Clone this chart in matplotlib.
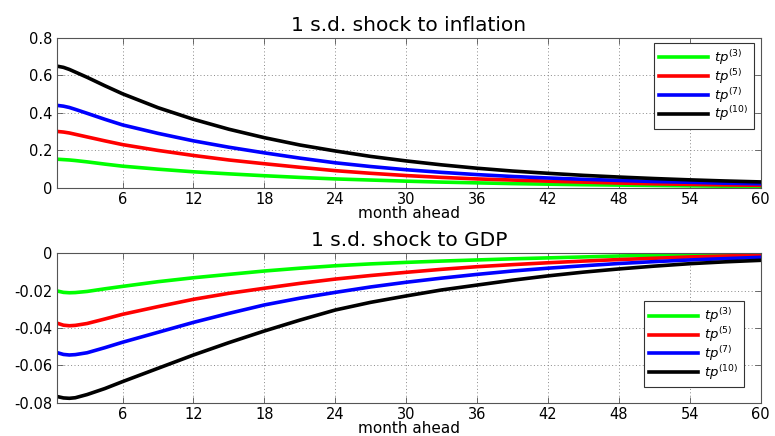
import matplotlib
matplotlib.use("Agg")
import matplotlib.pyplot as plt

# Horizon (months ahead) at which the impulse responses are recorded
months = [0.5, 1, 1.5, 2, 3, 4.5, 6, 9, 12, 15, 18, 21, 24, 27, 30, 33, 36, 39, 42, 45,
          48, 51, 54, 57, 60]

# Term-premium responses to a 1 s.d. inflation shock
infl_tp3 = [0.153, 0.151, 0.149, 0.146, 0.139, 0.127, 0.116, 0.100, 0.086, 0.075, 0.065,
            0.056, 0.048, 0.042, 0.036, 0.031, 0.027, 0.023, 0.020, 0.017, 0.015, 0.013,
            0.011, 0.009, 0.008]
infl_tp5 = [0.301, 0.298, 0.293, 0.286, 0.272, 0.251, 0.231, 0.200, 0.173, 0.149, 0.129,
            0.110, 0.092, 0.078, 0.066, 0.056, 0.048, 0.042, 0.036, 0.031, 0.026, 0.022,
            0.019, 0.016, 0.014]
infl_tp7 = [0.440, 0.436, 0.429, 0.419, 0.398, 0.366, 0.336, 0.291, 0.251, 0.217, 0.187,
            0.159, 0.134, 0.114, 0.097, 0.083, 0.071, 0.061, 0.053, 0.046, 0.040, 0.034,
            0.030, 0.025, 0.022]
infl_tp10 = [0.649, 0.643, 0.632, 0.618, 0.590, 0.545, 0.502, 0.428, 0.366, 0.313, 0.268,
             0.229, 0.197, 0.168, 0.144, 0.123, 0.105, 0.090, 0.078, 0.067, 0.058, 0.050,
             0.043, 0.037, 0.032]

# Term-premium responses to a 1 s.d. GDP shock
gdp_tp3 = [-0.0203, -0.0210, -0.0212, -0.0211, -0.0205, -0.0191, -0.0178, -0.0153, -0.0132,
           -0.0114, -0.0096, -0.0081, -0.0068, -0.0058, -0.0050, -0.0043, -0.0037, -0.0031,
           -0.0026, -0.0021, -0.0016, -0.0012, -0.0009, -0.0006, -0.0004]
gdp_tp5 = [-0.0375, -0.0385, -0.0388, -0.0386, -0.0376, -0.0352, -0.0327, -0.0286, -0.0247,
           -0.0215, -0.0188, -0.0162, -0.0139, -0.0120, -0.0103, -0.0087, -0.0073, -0.0062,
           -0.0052, -0.0043, -0.0035, -0.0028, -0.0021, -0.0016, -0.0011]
gdp_tp7 = [-0.0532, -0.0541, -0.0544, -0.0542, -0.0532, -0.0505, -0.0476, -0.0423, -0.0370,
           -0.0322, -0.0277, -0.0241, -0.0210, -0.0181, -0.0156, -0.0134, -0.0114, -0.0096,
           -0.0081, -0.0068, -0.0056, -0.0046, -0.0037, -0.0030, -0.0023]
gdp_tp10 = [-0.0766, -0.0773, -0.0775, -0.0772, -0.0755, -0.0723, -0.0686, -0.0615, -0.0544,
            -0.0478, -0.0416, -0.0358, -0.0304, -0.0263, -0.0229, -0.0197, -0.0171, -0.0145,
            -0.0122, -0.0102, -0.0085, -0.0070, -0.0057, -0.0047, -0.0039]

labels = [r'$tp^{\mathit{(3)}}$', r'$tp^{\mathit{(5)}}$', r'$tp^{\mathit{(7)}}$',
          r'$tp^{\mathit{(10)}}$']
colors = ['#00ff00', '#ff0000', '#0000ff', '#000000']
xticks = [6, 12, 18, 24, 30, 36, 42, 48, 54, 60]

plt.rcParams['font.family'] = ['DejaVu Sans']
plt.rcParams['mathtext.fontset'] = 'custom'
plt.rcParams['mathtext.rm'] = 'DejaVu Sans'
plt.rcParams['mathtext.it'] = 'DejaVu Sans:italic'

fig = plt.figure(figsize=(7.75, 4.36), dpi=100)
ax1 = fig.add_axes([0.0735, 0.569, 0.908, 0.344])
ax2 = fig.add_axes([0.0735, 0.0757, 0.908, 0.344])


def style(ax, title, ylim, yticks, yticklabels, legend_loc, legend_anchor):
    ax.set_xlim(0.45, 60)
    ax.set_ylim(*ylim)
    ax.set_xticks(xticks)
    ax.set_yticks(yticks)
    ax.set_yticklabels(yticklabels)
    ax.tick_params(direction='in', top=True, right=True, labelsize=10.5,
                   length=4, width=0.6, color='#555555', pad=3)
    ax.grid(True, linestyle=(0, (1, 2.5)), color='#888888', linewidth=0.7)
    for s in ax.spines.values():
        s.set_color('#555555')
        s.set_linewidth(0.8)
    ax.set_title(title, fontsize=14.5, pad=5)
    ax.set_xlabel('month ahead', fontsize=11, labelpad=-1)
    leg = ax.legend(loc=legend_loc, bbox_to_anchor=legend_anchor, borderaxespad=0,
                    fontsize=9.5, fancybox=False, framealpha=1, edgecolor='#333333',
                    handlelength=3.7, handletextpad=0.5, borderpad=0.38,
                    labelspacing=0.0)
    leg.get_frame().set_linewidth(0.8)


for y, c, lab in zip([infl_tp3, infl_tp5, infl_tp7, infl_tp10], colors, labels):
    ax1.plot(months, y, color=c, linewidth=2.6, label=lab)
style(ax1, '1 s.d. shock to inflation', (0, 0.8), [0, 0.2, 0.4, 0.6, 0.8],
      ['0', '0.2', '0.4', '0.6', '0.8'], 'upper right', (0.990, 0.967))

for y, c, lab in zip([gdp_tp3, gdp_tp5, gdp_tp7, gdp_tp10], colors, labels):
    ax2.plot(months, y, color=c, linewidth=2.6, label=lab)
style(ax2, '1 s.d. shock to GDP', (-0.08, 0), [-0.08, -0.06, -0.04, -0.02, 0],
      ['-0.08', '-0.06', '-0.04', '-0.02', '0'], 'lower right', (0.976, 0.107))

fig.savefig('out.png', dpi=100)
